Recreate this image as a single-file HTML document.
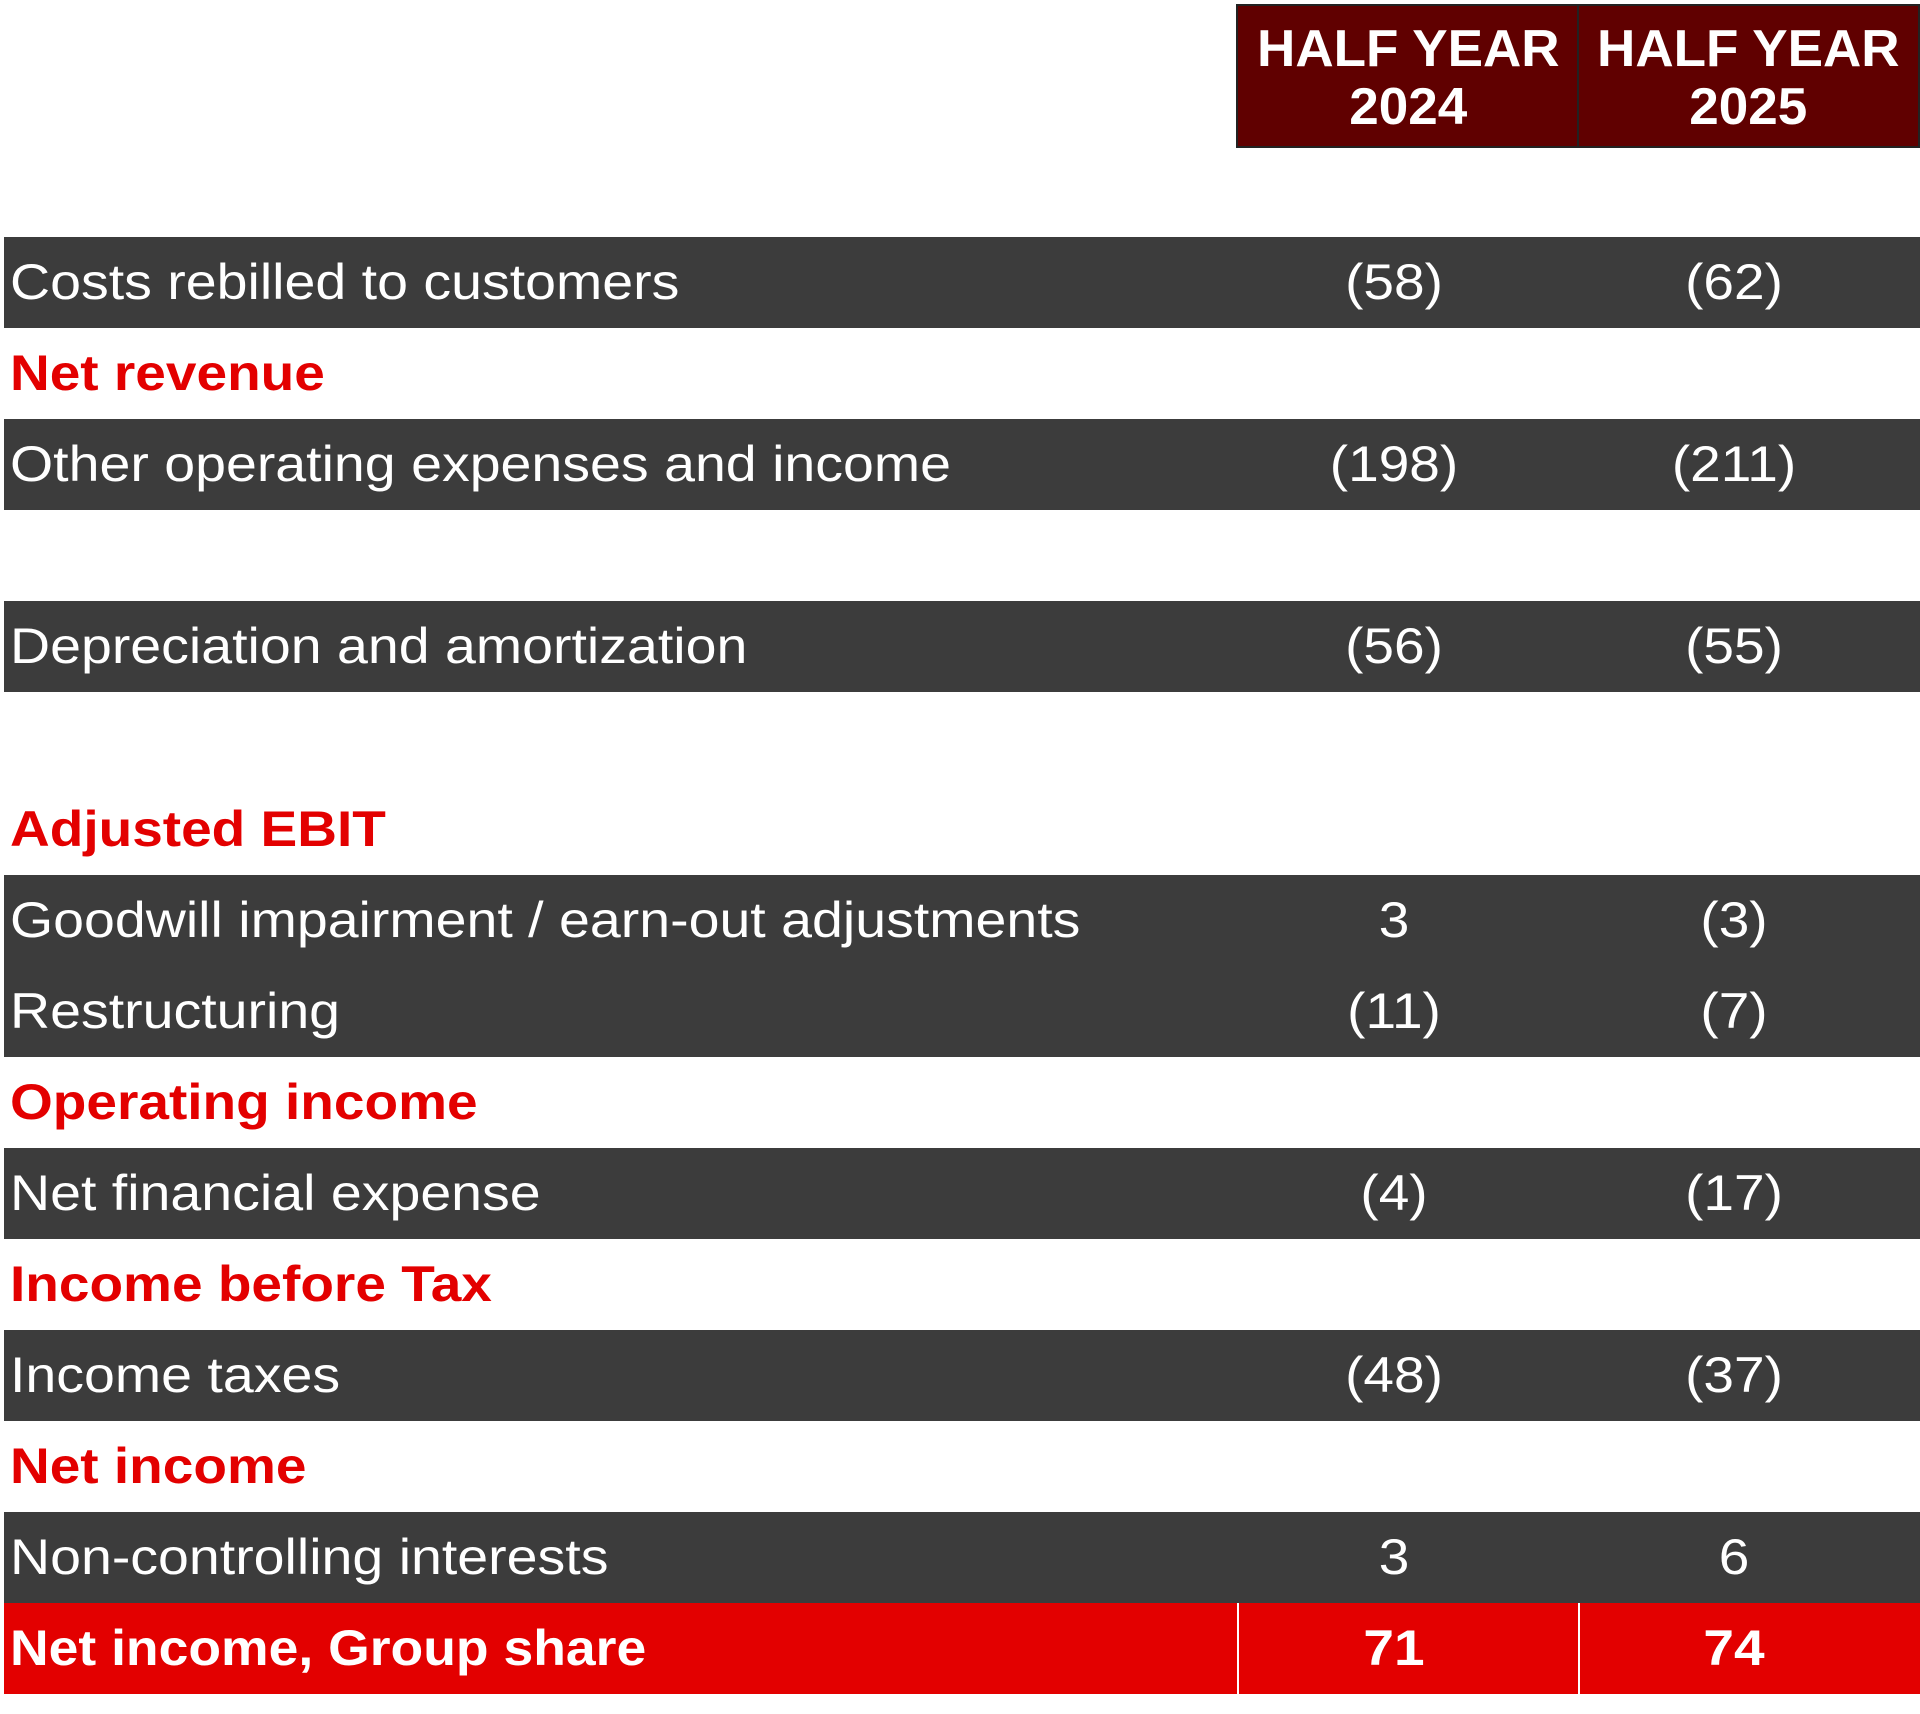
<!DOCTYPE html>
<html><head><style>
body{margin:0;width:1920px;height:1714px;background:#fff;position:relative;overflow:hidden;font-family:"Liberation Sans",sans-serif;}
.hdr{position:absolute;top:4px;height:144px;background:#600000;border:2px solid #222;color:#fff;font-weight:bold;font-size:52px;line-height:58px;text-align:center;box-sizing:border-box;padding-top:14px;}
.hdr span{display:inline-block;transform:scaleX(1.02);}
.row{position:absolute;left:4px;width:1916px;height:91.2px;line-height:91px;font-size:50px;}
.dark{background:#3c3c3c;color:#fff;}
.red{color:#e30000;font-weight:bold;}
.lab{position:absolute;left:6px;transform:scaleX(1.11);transform-origin:left center;white-space:nowrap;}
.red .lab{transform:scaleX(1.1);}
.gs .lab{transform:scaleX(1.07);}
.v1{position:absolute;left:1290px;width:200px;text-align:center;transform:scaleX(1.1);}
.v2{position:absolute;left:1630px;width:200px;text-align:center;transform:scaleX(1.1);}
.gs{background:#e30000;color:#fff;font-weight:bold;}
.div{position:absolute;top:0;width:2px;height:92px;background:#fff;}
</style></head><body>
<div class="hdr" style="left:1236px;width:345px;"><span>HALF YEAR<br>2024</span></div>
<div class="hdr" style="left:1577px;width:343px;"><span>HALF YEAR<br>2025</span></div>

<div class="row dark" style="top:237px"><span class="lab">Costs rebilled to customers</span><span class="v1">(58)</span><span class="v2">(62)</span></div>
<div class="row red" style="top:328px"><span class="lab">Net revenue</span></div>
<div class="row dark" style="top:419px"><span class="lab">Other operating expenses and income</span><span class="v1">(198)</span><span class="v2">(211)</span></div>
<div class="row dark" style="top:601px"><span class="lab">Depreciation and amortization</span><span class="v1">(56)</span><span class="v2">(55)</span></div>
<div class="row red" style="top:784px"><span class="lab">Adjusted EBIT</span></div>
<div class="row dark" style="top:875px"><span class="lab">Goodwill impairment / earn-out adjustments</span><span class="v1">3</span><span class="v2">(3)</span></div>
<div class="row dark" style="top:966px"><span class="lab">Restructuring</span><span class="v1">(11)</span><span class="v2">(7)</span></div>
<div class="row red" style="top:1057px"><span class="lab">Operating income</span></div>
<div class="row dark" style="top:1148px"><span class="lab">Net financial expense</span><span class="v1">(4)</span><span class="v2">(17)</span></div>
<div class="row red" style="top:1239px"><span class="lab">Income before Tax</span></div>
<div class="row dark" style="top:1330px"><span class="lab">Income taxes</span><span class="v1">(48)</span><span class="v2">(37)</span></div>
<div class="row red" style="top:1421px"><span class="lab">Net income</span></div>
<div class="row dark" style="top:1512px"><span class="lab">Non-controlling interests</span><span class="v1">3</span><span class="v2">6</span></div>
<div class="row gs" style="top:1603px"><span class="lab">Net income, Group share</span><div class="div" style="left:1233px"></div><div class="div" style="left:1574px"></div><span class="v1">71</span><span class="v2">74</span></div>
</body></html>
